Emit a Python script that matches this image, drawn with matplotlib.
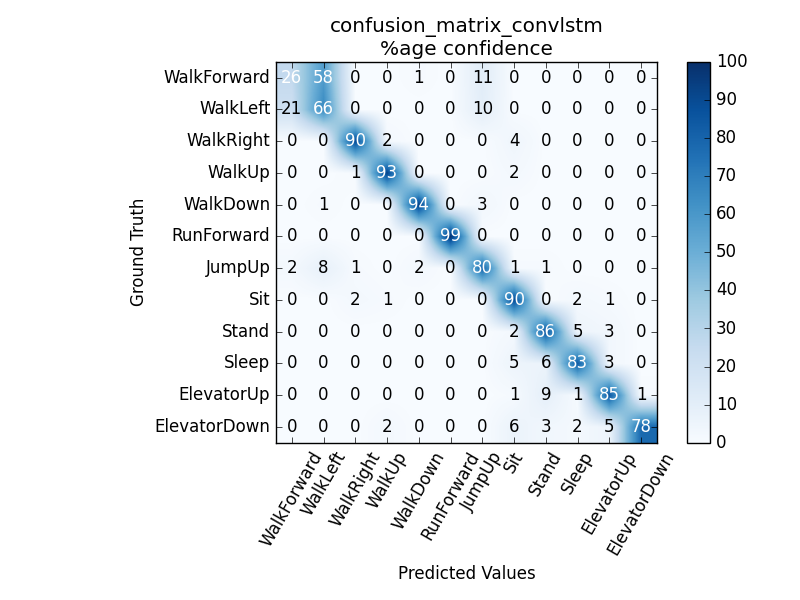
import numpy as np
import matplotlib
matplotlib.use("Agg")
import matplotlib.pyplot as plt

plt.style.use("classic")

classes = ["WalkForward", "WalkLeft", "WalkRight", "WalkUp", "WalkDown", "RunForward",
           "JumpUp", "Sit", "Stand", "Sleep", "ElevatorUp", "ElevatorDown"]
cm = np.array([
    [26, 58, 0, 0, 1, 0, 11, 0, 0, 0, 0, 0],
    [21, 66, 0, 0, 0, 0, 10, 0, 0, 0, 0, 0],
    [0, 0, 90, 2, 0, 0, 0, 4, 0, 0, 0, 0],
    [0, 0, 1, 93, 0, 0, 0, 2, 0, 0, 0, 0],
    [0, 1, 0, 0, 94, 0, 3, 0, 0, 0, 0, 0],
    [0, 0, 0, 0, 0, 99, 0, 0, 0, 0, 0, 0],
    [2, 8, 1, 0, 2, 0, 80, 1, 1, 0, 0, 0],
    [0, 0, 2, 1, 0, 0, 0, 90, 0, 2, 1, 0],
    [0, 0, 0, 0, 0, 0, 0, 2, 86, 5, 3, 0],
    [0, 0, 0, 0, 0, 0, 0, 5, 6, 83, 3, 0],
    [0, 0, 0, 0, 0, 0, 0, 1, 9, 1, 85, 1],
    [0, 0, 0, 2, 0, 0, 0, 6, 3, 2, 5, 78],
])

fig = plt.figure(figsize=(8, 6), dpi=100)
fig.patch.set_facecolor("white")
ax = fig.add_axes([0.344, 0.262, 0.478, 0.635])
im = ax.imshow(cm, cmap="Blues", vmin=0, vmax=100, interpolation="bilinear")
cax = fig.add_axes([0.859, 0.262, 0.029, 0.635])
fig.colorbar(im, cax=cax, ticks=range(0, 101, 10))

ticks = np.arange(len(classes))
ax.set_xticks(ticks)
ax.set_xticklabels(classes, rotation=60)
ax.set_yticks(ticks)
ax.set_yticklabels(classes)
ax.set_xlim(-0.5, 11.5)
ax.set_ylim(11.5, -0.5)

for i in range(cm.shape[0]):
    for j in range(cm.shape[1]):
        ax.text(j, i, str(cm[i, j]), ha="center", va="center",
                color="white" if cm[i, j] > 25 else "black")

ax.set_title("confusion_matrix_convlstm\n%age confidence")
ax.set_ylabel("Ground Truth")
ax.set_xlabel("Predicted Values")

fig.savefig("out.png", dpi=100, facecolor="white")
